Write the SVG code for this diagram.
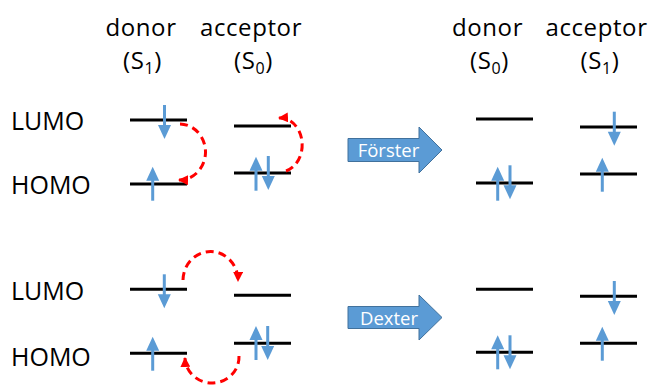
<svg xmlns="http://www.w3.org/2000/svg" xmlns:xlink="http://www.w3.org/1999/xlink" width="651" height="385" viewBox="0 0 651 385">
<style>
.t{font-family:"Open Sans","Liberation Sans",sans-serif;font-size:25px;fill:#000}
.h{font-family:"Open Sans","Liberation Sans",sans-serif;font-size:24px;fill:#000;text-anchor:middle;letter-spacing:0.6px}
.bt{font-family:"Open Sans","Liberation Sans",sans-serif;font-size:18.5px;fill:#fff;text-anchor:middle}
.lv{stroke:#000;stroke-width:3;fill:none}
.sh{stroke:#5B9BD5;stroke-width:3;fill:none}
.hd{fill:#5B9BD5;stroke:none}
.ba{fill:#5B9BD5;stroke:#41719C;stroke-width:1}
.tr{fill:none;stroke:#FF0000;stroke-width:3;stroke-dasharray:8 5}
</style>
<defs>
<g id="dn"><line class="sh" x1="0" y1="-34" x2="0" y2="-12"/><polygon class="hd" points="-6.5,-14 6.5,-14 0,0"/></g>
<g id="up"><line class="sh" x1="0" y1="34" x2="0" y2="12"/><polygon class="hd" points="-6.5,14 6.5,14 0,0"/></g>
<marker id="ah" viewBox="0 0 10 10" refX="9" refY="5" markerWidth="10" markerHeight="10" markerUnits="userSpaceOnUse" orient="auto"><path d="M0,0 L10,5 L0,10 z" fill="#FF0000"/></marker>
</defs>

<g id="headers">
<text class="h"><tspan x="141" y="35.5">donor</tspan><tspan x="142.5" y="68.5">(S<tspan font-size="16" dy="5">1</tspan><tspan dy="-5">)</tspan></tspan></text>
<text class="h"><tspan x="251" y="35.5">acceptor</tspan><tspan x="253.5" y="68.5">(S<tspan font-size="16" dy="5">0</tspan><tspan dy="-5">)</tspan></tspan></text>
<text class="h"><tspan x="487.5" y="35.5">donor</tspan><tspan x="489.5" y="68.5">(S<tspan font-size="16" dy="5">0</tspan><tspan dy="-5">)</tspan></tspan></text>
<text class="h"><tspan x="596.5" y="35.5">acceptor</tspan><tspan x="600" y="68.5">(S<tspan font-size="16" dy="5">1</tspan><tspan dy="-5">)</tspan></tspan></text>
</g>

<g id="row-labels">
<text class="t" x="11" y="130">LUMO</text>
<text class="t" x="11" y="194">HOMO</text>
<text class="t" x="11" y="300">LUMO</text>
<text class="t" x="11" y="366">HOMO</text>
</g>

<g id="forster-before">
<line class="lv" x1="130" y1="120" x2="187" y2="120"/>
<line class="lv" x1="130" y1="184" x2="187" y2="184"/>
<line class="lv" x1="234" y1="126" x2="291" y2="126"/>
<line class="lv" x1="234" y1="173" x2="291" y2="173"/>
<use xlink:href="#dn" x="164.5" y="139"/>
<use xlink:href="#up" x="152.7" y="166.7"/>
<use xlink:href="#up" x="256" y="156.7"/>
<use xlink:href="#dn" x="268.3" y="190"/>
</g>

<g id="forster-arrow">
<polygon class="ba" points="348,138.5 419,138.5 419,127 442,150 419,173 419,161.5 348,161.5"/>
<text class="bt" x="388.5" y="157">Förster</text>
</g>

<g id="forster-after">
<line class="lv" x1="476" y1="119" x2="533" y2="119"/>
<line class="lv" x1="476" y1="183" x2="533" y2="183"/>
<line class="lv" x1="580" y1="127" x2="637" y2="127"/>
<line class="lv" x1="580" y1="174" x2="637" y2="174"/>
<use xlink:href="#up" x="497.7" y="166.7"/>
<use xlink:href="#dn" x="510" y="199.3"/>
<use xlink:href="#dn" x="614.3" y="145.7"/>
<use xlink:href="#up" x="602.3" y="157.7"/>
</g>

<g id="dexter-before">
<line class="lv" x1="130" y1="289.3" x2="187" y2="289.3"/>
<line class="lv" x1="130" y1="353.3" x2="187" y2="353.3"/>
<line class="lv" x1="234" y1="295.3" x2="291" y2="295.3"/>
<line class="lv" x1="234" y1="343.3" x2="291" y2="343.3"/>
<use xlink:href="#dn" x="164.3" y="308.3"/>
<use xlink:href="#up" x="152.7" y="336.7"/>
<use xlink:href="#up" x="256" y="326"/>
<use xlink:href="#dn" x="267.7" y="360"/>
</g>

<g id="dexter-arrow">
<polygon class="ba" points="348,306.5 419,306.5 419,295 442,317.5 419,340 419,328.5 348,328.5"/>
<text class="bt" x="389" y="324.5">Dexter</text>
</g>

<g id="dexter-after">
<line class="lv" x1="476" y1="289.3" x2="533" y2="289.3"/>
<line class="lv" x1="476" y1="352.3" x2="533" y2="352.3"/>
<line class="lv" x1="580" y1="296.3" x2="637" y2="296.3"/>
<line class="lv" x1="580" y1="343.3" x2="637" y2="343.3"/>
<use xlink:href="#up" x="497.7" y="335.3"/>
<use xlink:href="#dn" x="510" y="369.3"/>
<use xlink:href="#dn" x="614.3" y="315"/>
<use xlink:href="#up" x="602.3" y="326.7"/>
</g>

<g id="connectors">
<path class="tr" d="M180,124 A26,28 0 0 1 179,180" marker-end="url(#ah)"/>
<path class="tr" d="M286,171 A22,27 0 0 0 279,118" marker-end="url(#ah)"/>
<path class="tr" d="M183,280 A27.5,29 0 0 1 238,281" marker-end="url(#ah)"/>
<path class="tr" d="M239,356 A27,26 0 0 1 185,358" marker-end="url(#ah)"/>
</g>
</svg>
